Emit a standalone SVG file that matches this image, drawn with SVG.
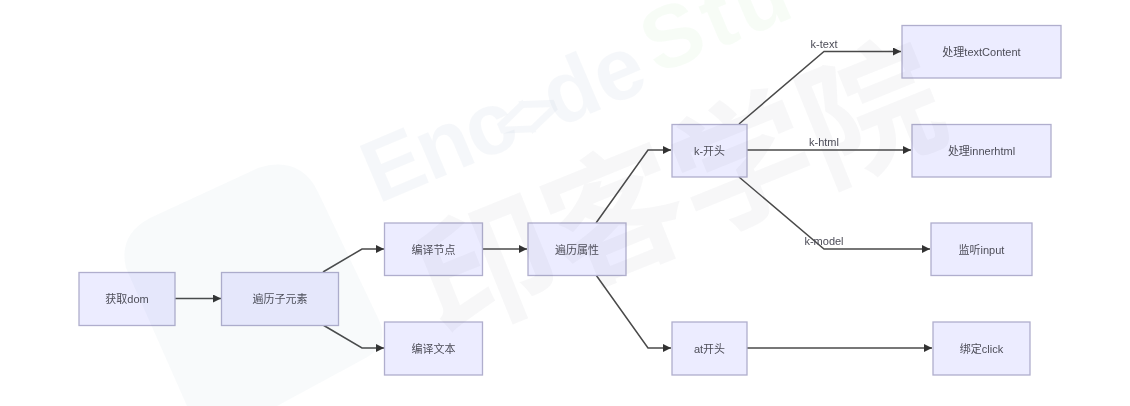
<svg xmlns="http://www.w3.org/2000/svg" width="1130" height="406" viewBox="0 0 1130 406">
<style>
.n rect{fill:#ececff;stroke:#b0aecd;stroke-width:1.3}
.n text,.l{font-family:"Liberation Sans","Noto Sans CJK SC",sans-serif;font-size:11px;fill:#4d4d58}
.n text{text-anchor:middle;dominant-baseline:central}
.l{text-anchor:middle;dominant-baseline:central}
.c path{fill:none;stroke:#4a4a4a;stroke-width:1.5;marker-end:url(#a)}
.w{font-family:"Liberation Sans","Noto Sans CJK SC",sans-serif;font-weight:700}
.wb{fill:#6482aa;opacity:.055}
</style>
<defs>
<marker id="a" markerWidth="9" markerHeight="8" refX="8" refY="4" orient="auto" markerUnits="userSpaceOnUse"><path d="M0 0L8 4L0 8Z" fill="#333"/></marker>
<filter id="b" x="-5%" y="-5%" width="110%" height="110%"><feGaussianBlur stdDeviation="0.6"/></filter>
</defs>
<rect width="1130" height="406" fill="#fff"/>
<g filter="url(#b)">
<g id="connectors" class="c">
<path d="M175 298.500H221"/>
<path d="M323 272L362 249H384"/>
<path d="M323 325L362 348H384"/>
<path d="M483 249H527"/>
<path d="M596 223L648 150H671"/>
<path d="M596 275L648 348H671"/>
<path d="M739 124L824 51.500H901"/>
<path d="M747 150H911"/>
<path d="M739 177L824 249H930"/>
<path d="M747 348H932"/>
</g>
<g id="edge-labels">
<text class="l" x="824" y="43.500">k-text</text>
<text class="l" x="824" y="142">k-html</text>
<text class="l" x="824" y="241">k-model</text>
</g>
<g id="n1" class="n"><rect x="79" y="272.500" width="96" height="53"/><text x="127" y="299">获取dom</text></g>
<g id="n2" class="n"><rect x="221.500" y="272.500" width="117" height="53"/><text x="280" y="299">遍历子元素</text></g>
<g id="n3" class="n"><rect x="384.500" y="223" width="98" height="52.500"/><text x="433.500" y="249.500">编译节点</text></g>
<g id="n4" class="n"><rect x="384.500" y="322" width="98" height="53"/><text x="433.500" y="348.500">编译文本</text></g>
<g id="n5" class="n"><rect x="528" y="223" width="98" height="52.500"/><text x="577" y="249.500">遍历属性</text></g>
<g id="n6" class="n"><rect x="672" y="124.500" width="75" height="52.500"/><text x="709.500" y="150.500">k-开头</text></g>
<g id="n7" class="n"><rect x="672" y="322" width="75" height="53"/><text x="709.500" y="348.500">at开头</text></g>
<g id="n8" class="n"><rect x="902" y="25.500" width="159" height="52.500"/><text x="981.500" y="52">处理textContent</text></g>
<g id="n9" class="n"><rect x="912" y="124.500" width="139" height="52.500"/><text x="981.500" y="150.500">处理innerhtml</text></g>
<g id="n10" class="n"><rect x="931" y="223" width="101" height="52.500"/><text x="981.500" y="249.500">监听input</text></g>
<g id="n11" class="n"><rect x="933" y="322" width="97" height="53"/><text x="981.500" y="348.500">绑定click</text></g>
</g>
<g id="watermark">
<path d="M150 218L258 168Q300 155 318 192L378 318Q392 345 362 360L277 406H187L126 268Q118 235 150 218Z" fill="#6482aa" opacity=".045"/>
<text class="w wb" transform="translate(378 204) rotate(-23)" font-size="88" letter-spacing="-2">Enc</text>
<text class="w wb" transform="translate(505 150) rotate(-23)" font-size="66" letter-spacing="-10">&lt;&gt;</text>
<text class="w wb" transform="translate(557 128) rotate(-23)" font-size="88">de</text>
<text class="w" transform="translate(657 75) rotate(-23)" font-size="88" letter-spacing="5" fill="#78d26e" opacity=".055">Stu</text>
<text class="w" transform="translate(442 340) rotate(-22)" font-size="138" fill="#5a5a6e" opacity=".045">印客学院</text>
</g>
</svg>
